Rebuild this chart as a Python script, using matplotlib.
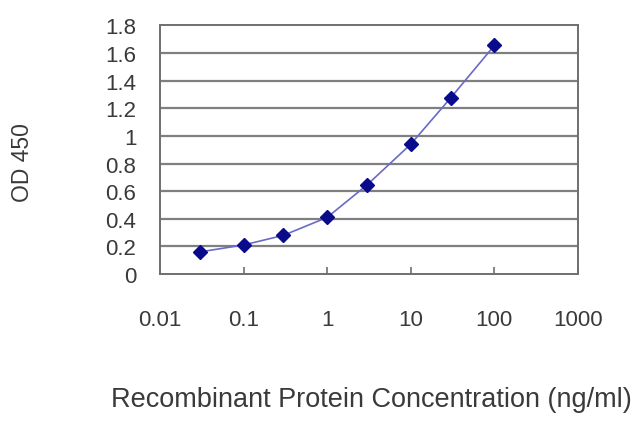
import matplotlib
matplotlib.use("Agg")
import matplotlib.pyplot as plt

# data
conc = [0.03, 0.1, 0.3, 1, 3, 10, 30, 100]
od450 = [0.16, 0.21, 0.28, 0.41, 0.645, 0.94, 1.275, 1.655]

x_ticks = [0.01, 0.1, 1, 10, 100, 1000]
x_labels = ["0.01", "0.1", "1", "10", "100", "1000"]
y_ticks = [0, 0.2, 0.4, 0.6, 0.8, 1, 1.2, 1.4, 1.6, 1.8]
y_labels = ["0", "0.2", "0.4", "0.6", "0.8", "1", "1.2", "1.4", "1.6", "1.8"]

plt.rcParams['font.family'] = ['Liberation Sans', 'DejaVu Sans']

fig = plt.figure(figsize=(6.4, 4.27), dpi=100)
ax = fig.add_axes([0.25, 0.356, 0.653, 0.582])

ax.set_xscale('log')
ax.set_xlim(0.01, 1000)
ax.set_ylim(0, 1.8)

# horizontal grid
for y in y_ticks[1:-1]:
    ax.axhline(y, color='#7f7f7f', lw=1.6, zorder=1)

ax.plot(conc, od450, color='#6a6ac8', lw=1.2, zorder=2)
ax.plot(conc, od450, ls='none', marker='D', ms=7, color='#0a0a8c', zorder=3)

for s in ax.spines.values():
    s.set_color('#6f6f6f')
    s.set_linewidth(1.4)

ax.set_xticks(x_ticks)
ax.set_xticklabels(x_labels)
ax.minorticks_off()
ax.set_yticks(y_ticks)
ax.set_yticklabels(y_labels)
ax.tick_params(axis='x', direction='in', length=5, width=1.2, color='#6f6f6f',
               pad=25, labelsize=16, labelcolor='#3a3a3a')
ax.tick_params(axis='y', length=0, pad=17, labelsize=16, labelcolor='#3a3a3a')

fig.text(0.035, 0.62, 'OD 450', rotation=90, ha='center', va='center',
         fontsize=16.5, color='#3a3a3a')
fig.text(0.581, 0.063, 'Recombinant Protein Concentration (ng/ml)', ha='center',
         va='center', fontsize=19.5, color='#3a3a3a')

fig.savefig('out.png', dpi=100)
